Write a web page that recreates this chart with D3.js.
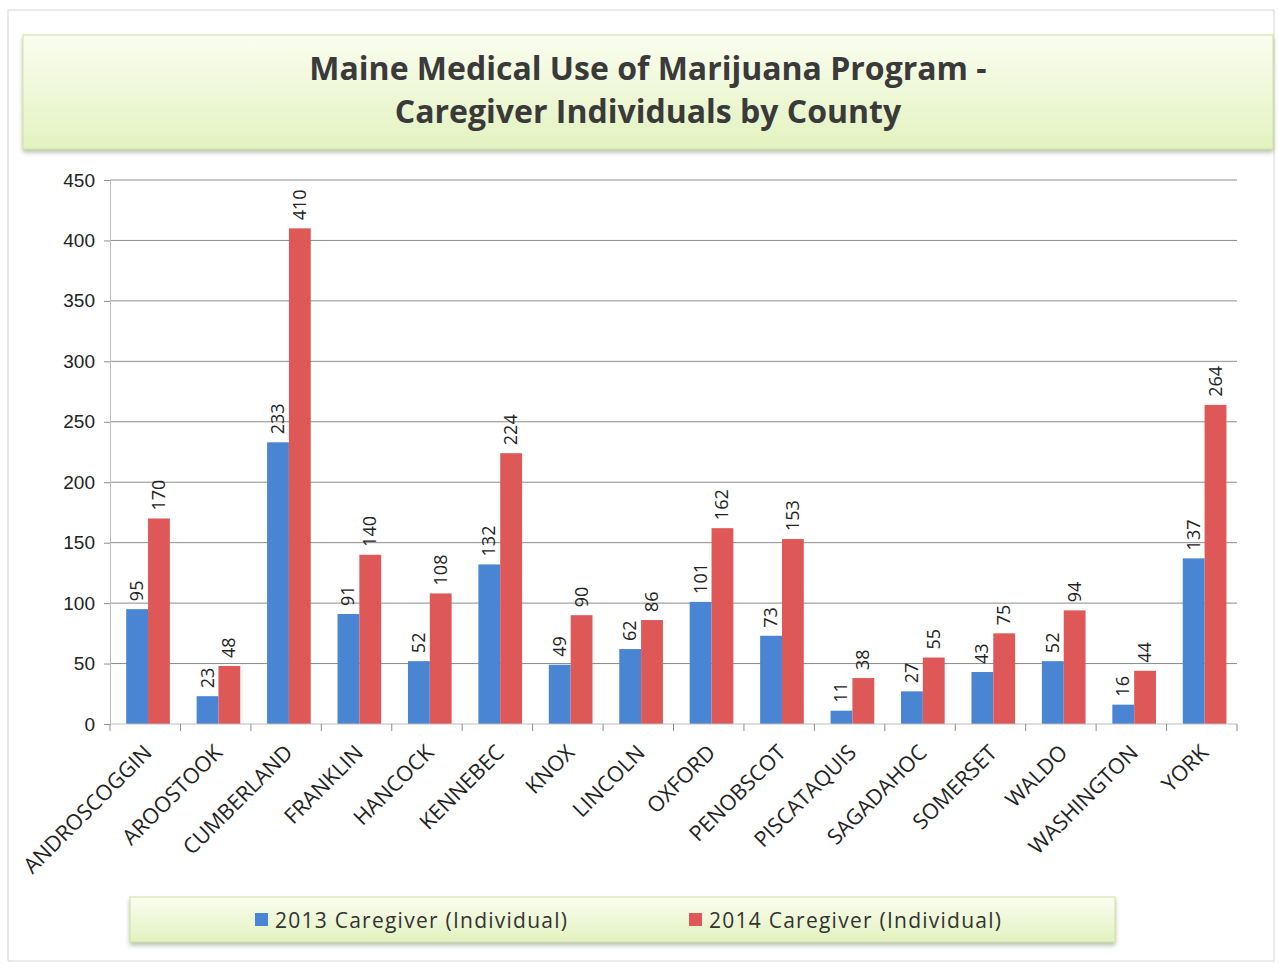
<!DOCTYPE html>
<html>
<head>
<meta charset="utf-8">
<script src="https://cdn.jsdelivr.net/npm/d3@7"></script>
<style>
  body { margin: 0; background: #fff; }
  svg { display: block; font-family: "Open Sans", "Noto Sans", sans-serif; }
</style>
</head>
<body>
<div id="chart"></div>
<script>
const counties = ["ANDROSCOGGIN", "AROOSTOOK", "CUMBERLAND", "FRANKLIN", "HANCOCK",
  "KENNEBEC", "KNOX", "LINCOLN", "OXFORD", "PENOBSCOT", "PISCATAQUIS", "SAGADAHOC",
  "SOMERSET", "WALDO", "WASHINGTON", "YORK"];
const caregivers2013 = [95, 23, 233, 91, 52, 132, 49, 62, 101, 73, 11, 27, 43, 52, 16, 137];
const caregivers2014 = [170, 48, 410, 140, 108, 224, 90, 86, 162, 153, 38, 55, 75, 94, 44, 264];
const seriesNames = ["2013 Caregiver (Individual)", "2014 Caregiver (Individual)"];
const yTicks = [0, 50, 100, 150, 200, 250, 300, 350, 400, 450];

const width = 1279, height = 964;
const colors = ["#4a85d4", "#de5858"];
const margin = { top: 180, right: 42, bottom: 240, left: 110 };

const svg = d3.select("#chart").append("svg")
  .attr("width", width).attr("height", height);

const defs = svg.append("defs");
const grad = defs.append("linearGradient").attr("id", "boxGrad")
  .attr("x1", "0").attr("y1", "0").attr("x2", "0").attr("y2", "1");
grad.append("stop").attr("offset", "0%").attr("stop-color", "#fbfdf0");
grad.append("stop").attr("offset", "100%").attr("stop-color", "#e2f2bf");
const shadow = defs.append("filter").attr("id", "shadow")
  .attr("x", "-5%").attr("y", "-20%").attr("width", "110%").attr("height", "150%");
shadow.append("feDropShadow").attr("dx", 0).attr("dy", 3).attr("stdDeviation", 2)
  .attr("flood-color", "#9aa88a").attr("flood-opacity", 0.7);

// outer frame
svg.append("rect").attr("x", 8).attr("y", 10).attr("width", 1266).attr("height", 951)
  .attr("fill", "none").attr("stroke", "#d6d6d6");

// title box
svg.append("rect").attr("x", 23).attr("y", 35).attr("width", 1250).attr("height", 114)
  .attr("fill", "url(#boxGrad)").attr("stroke", "#cfe3a6").attr("filter", "url(#shadow)");
const title = svg.append("text").attr("text-anchor", "middle")
  .attr("fill", "#3a3a3a").attr("font-weight", "bold").attr("font-size", 32)
  .style("font-family", "'Open Sans', sans-serif");
title.append("tspan").attr("x", 648).attr("y", 80).text("Maine Medical Use of Marijuana Program -");
title.append("tspan").attr("x", 648).attr("y", 123).text("Caregiver Individuals by  County");

const innerW = width - margin.left - margin.right;
const innerH = height - margin.top - margin.bottom;
const g = svg.append("g").attr("transform", `translate(${margin.left},${margin.top})`);

const x = d3.scaleBand().domain(counties).range([0, innerW]);
const x1 = d3.scaleBand().domain([0, 1]).range([x.bandwidth() * 0.23, x.bandwidth() * 0.85]);
const y = d3.scaleLinear().domain([0, 450]).range([innerH, 0]);

// gridlines
g.selectAll(".grid").data(yTicks.slice(1)).join("line")
  .attr("x1", 0).attr("x2", innerW)
  .attr("y1", d => y(d)).attr("y2", d => y(d))
  .attr("stroke", "#8c8c8c").attr("stroke-width", 1);

// y axis
const yAxis = g.append("g").call(d3.axisLeft(y).tickValues(yTicks).tickSize(6).tickPadding(9));
yAxis.select(".domain").attr("stroke", "#bdbdbd");
yAxis.selectAll(".tick line").attr("stroke", "#8c8c8c");
yAxis.selectAll("text").attr("font-size", 19).attr("fill", "#222");

// bars
const rows = counties.map((c, i) => ({ county: c, vals: [caregivers2013[i], caregivers2014[i]] }));
const groups = g.selectAll(".grp").data(rows).join("g")
  .attr("transform", d => `translate(${x(d.county)},0)`);
groups.selectAll("rect").data(d => d.vals.map((v, k) => ({ v, k }))).join("rect")
  .attr("x", d => x1(d.k)).attr("width", x1.bandwidth())
  .attr("y", d => y(d.v)).attr("height", d => innerH - y(d.v))
  .attr("fill", d => colors[d.k]);
groups.selectAll(".lbl").data(d => d.vals.map((v, k) => ({ v, k }))).join("text")
  .attr("class", "lbl")
  .attr("transform", d => `translate(${x1(d.k) + x1.bandwidth() / 2 + 6},${y(d.v) - 8}) rotate(-90)`)
  .attr("font-size", 18).attr("fill", "#222")
  .text(d => d.v);

// x axis
const boundaries = counties.map(c => x(c)).concat([innerW]);
const xAxis = g.append("g").attr("transform", `translate(0,${innerH})`);
xAxis.append("line").attr("x1", 0).attr("x2", innerW).attr("stroke", "#bdbdbd");
xAxis.selectAll(".xt").data(boundaries).join("line")
  .attr("x1", d => d).attr("x2", d => d).attr("y1", 0).attr("y2", 7)
  .attr("stroke", "#8c8c8c");
xAxis.selectAll(".xl").data(counties).join("text")
  .attr("text-anchor", "end")
  .attr("transform", c => `translate(${x(c) + x.bandwidth() / 2 + 8},${30}) rotate(-45)`)
  .attr("font-size", 21.5).attr("fill", "#222")
  .text(c => c);

// legend
svg.append("rect").attr("x", 130).attr("y", 897).attr("width", 985).attr("height", 45)
  .attr("fill", "url(#boxGrad)").attr("stroke", "#cfe3a6").attr("filter", "url(#shadow)");
const legendX = [255, 689];
const leg = svg.selectAll(".leg").data(seriesNames).join("g")
  .attr("transform", (d, i) => `translate(${legendX[i]},920)`);
leg.append("rect").attr("x", 0).attr("y", -7).attr("width", 13).attr("height", 13)
  .attr("fill", (d, i) => colors[i]);
leg.append("text").attr("x", 20).attr("y", 8).attr("font-size", 21).attr("fill", "#333")
  .attr("textLength", 292).attr("lengthAdjust", "spacing")
  .text(d => d);
</script>
</body>
</html>
